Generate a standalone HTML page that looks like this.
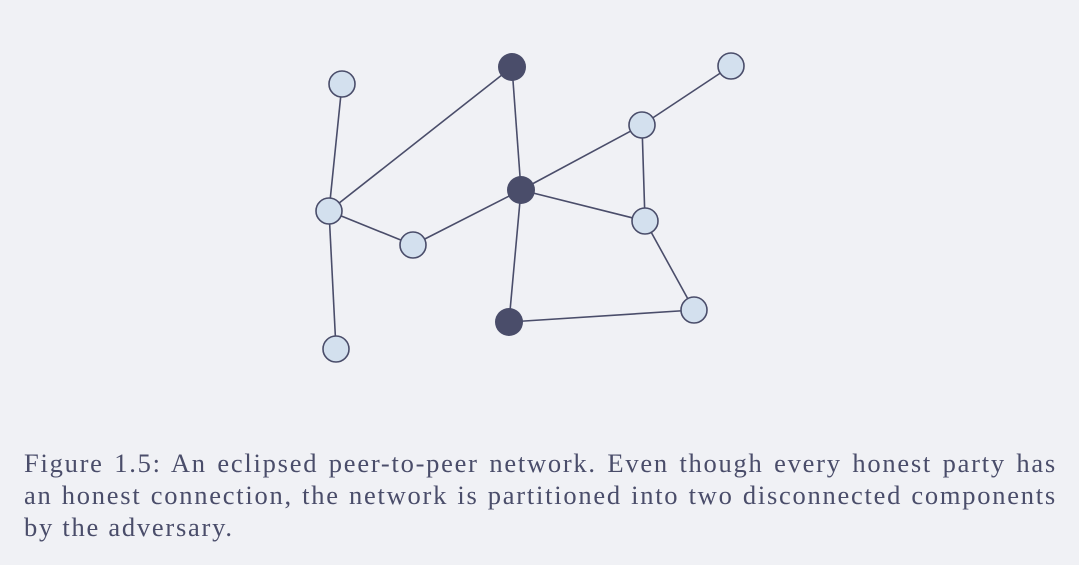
<!DOCTYPE html>
<html><head><style>
body{margin:0;width:1079px;height:565px;background:#f0f1f5;overflow:hidden;position:relative}
svg{position:absolute;left:0;top:0}
.cap{position:absolute;left:24px;width:1033px;font-family:"Liberation Serif",serif;font-size:26.5px;letter-spacing:1.75px;line-height:32px;color:#4a4d6a;white-space:nowrap}
.j{text-align:justify;text-align-last:justify}
</style></head><body>
<svg width="1079" height="440">
<g stroke="#4a4d6a" stroke-width="1.6">
<line x1="342" y1="84" x2="329" y2="211"/>
<line x1="329" y1="211" x2="512" y2="67"/>
<line x1="512" y1="67" x2="521" y2="190"/>
<line x1="329" y1="211" x2="413" y2="245"/>
<line x1="413" y1="245" x2="521" y2="190"/>
<line x1="521" y1="190" x2="642" y2="125"/>
<line x1="642" y1="125" x2="731" y2="66"/>
<line x1="642" y1="125" x2="645" y2="221"/>
<line x1="521" y1="190" x2="645" y2="221"/>
<line x1="521" y1="190" x2="509" y2="322"/>
<line x1="645" y1="221" x2="694" y2="310"/>
<line x1="509" y1="322" x2="694" y2="310"/>
<line x1="329" y1="211" x2="336" y2="349"/>
</g>
<g fill="#d3e0ee" stroke="#4a4d6a" stroke-width="1.6">
<circle cx="342" cy="84" r="13"/><circle cx="731" cy="66" r="13"/><circle cx="642" cy="125" r="13"/>
<circle cx="329" cy="211" r="13"/><circle cx="645" cy="221" r="13"/><circle cx="413" cy="245" r="13"/>
<circle cx="694" cy="310" r="13"/><circle cx="336" cy="349" r="13"/>
</g>
<g fill="#4a4d6a">
<circle cx="512" cy="67" r="14"/><circle cx="521" cy="190" r="14"/><circle cx="509" cy="322" r="14"/>
</g>
</svg>
<div class="cap j" style="top:447px">Figure 1.5: An eclipsed peer-to-peer network. Even though every honest party has</div>
<div class="cap j" style="top:479px">an honest connection, the network is partitioned into two disconnected components</div>
<div class="cap" style="top:511px">by the adversary.</div>
</body></html>
